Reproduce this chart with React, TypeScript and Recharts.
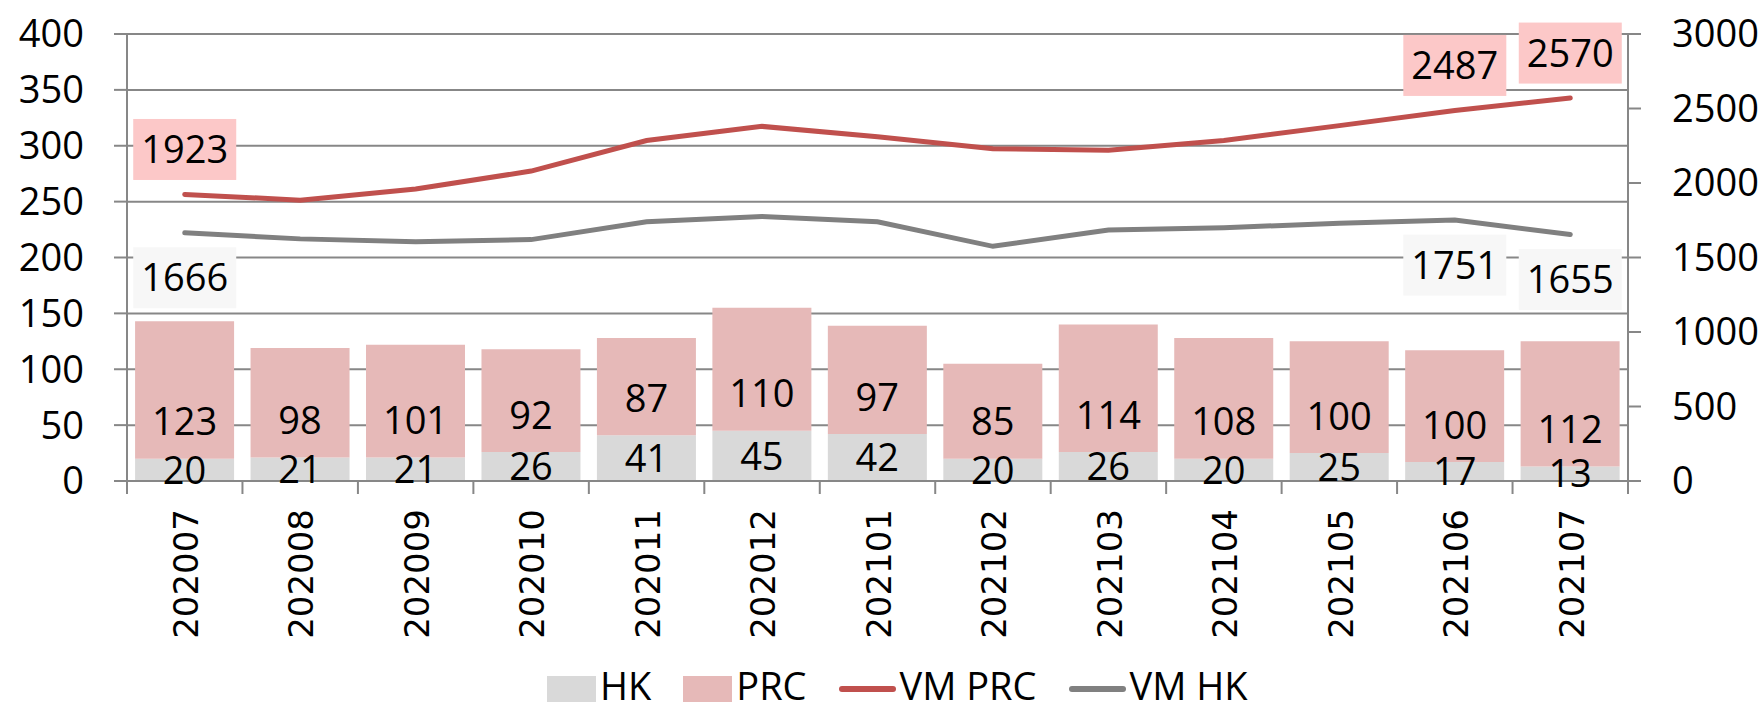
import React from 'react';
import { ComposedChart, Bar, Line, XAxis, YAxis, CartesianGrid, Legend, LabelList } from 'recharts';

const months = ['202007', '202008', '202009', '202010', '202011', '202012', '202101', '202102', '202103', '202104', '202105', '202106', '202107'];
const hk = [20, 21, 21, 26, 41, 45, 42, 20, 26, 20, 25, 17, 13];
const prc = [123, 98, 101, 92, 87, 110, 97, 85, 114, 108, 100, 100, 112];
const vmPrc = [1923, 1885, 1960, 2080, 2285, 2380, 2310, 2230, 2220, 2285, 2385, 2487, 2570];
const vmHk = [1666, 1625, 1605, 1620, 1740, 1775, 1740, 1575, 1685, 1700, 1730, 1751, 1655];
const leftTicks = [0, 50, 100, 150, 200, 250, 300, 350, 400];
const rightTicks = [0, 500, 1000, 1500, 2000, 2500, 3000];
const lineLabelIdx = [0, 11, 12];

const data = months.map((m, i) => ({ month: m, hk: hk[i], prc: prc[i], vmPrc: vmPrc[i], vmHk: vmHk[i] }));

const W = 1763;
const H = 702;
const LEFT = 127;
const RIGHT_W = 135;
const PLOT_W = W - LEFT - RIGHT_W;
const GRID = '#878787';
const FONT = "'Open Sans', Lato, sans-serif";
const FS = 38;

const MonthTick = (props: any) => {
  const { x, y, payload, index } = props;
  const band = PLOT_W / months.length;
  return (
    <g>
      <line x1={x - band / 2} x2={x - band / 2} y1={y} y2={y + 13} stroke={GRID} strokeWidth={2} />
      {index === months.length - 1 && (
        <line x1={x + band / 2} x2={x + band / 2} y1={y} y2={y + 13} stroke={GRID} strokeWidth={2} />
      )}
      <text
        transform={`translate(${x + 1},${y + 28}) rotate(-90)`}
        textAnchor="end"
        dy="0.36em"
        fontSize={34}
        fontFamily="'DejaVu Sans', sans-serif"
        fill="#000"
      >
        {payload.value}
      </text>
    </g>
  );
};

const hkLabel = (props: any) => {
  const { x, y, width, height, value } = props;
  return (
    <text x={x + width / 2} y={y + height / 2} dy="0.36em" textAnchor="middle" fontSize={FS} fontFamily={FONT} fill="#000">
      {value}
    </text>
  );
};

const prcLabel = (props: any) => {
  const { x, y, width, height, value } = props;
  return (
    <text x={x + width / 2} y={y + height - 37} dy="0.36em" textAnchor="middle" fontSize={FS} fontFamily={FONT} fill="#000">
      {value}
    </text>
  );
};

const lineLabel = (fill: string, off: number) => (props: any) => {
  const { x, y, value, index } = props;
  if (!lineLabelIdx.includes(index)) return null;
  return (
    <g>
      <rect x={x - 51.5} y={y + off - 30.5} width={103} height={61} fill={fill} />
      <text x={x} y={y + off} dy="0.36em" textAnchor="middle" fontSize={FS} fontFamily={FONT} fill="#000">
        {value}
      </text>
    </g>
  );
};

const legendItems = [
  { name: 'HK', color: '#D9D9D9', type: 'box' },
  { name: 'PRC', color: '#E6B9B8', type: 'box' },
  { name: 'VM PRC', color: '#C0504D', type: 'line' },
  { name: 'VM HK', color: '#808080', type: 'line' },
];

const renderLegend = () => (
  <div style={{ display: 'flex', paddingLeft: 547, fontFamily: FONT, fontSize: FS, lineHeight: 1, color: '#000' }}>
    {legendItems.map((it) => (
      <div key={it.name} style={{ display: 'flex', alignItems: 'flex-start', marginRight: 32 }}>
        {it.type === 'box' ? (
          <div style={{ width: 49, height: 40, marginTop: 10, background: it.color }} />
        ) : (
          <div style={{ width: 57, height: 6, marginTop: 20, borderRadius: 3, background: it.color }} />
        )}
        <span style={{ marginLeft: 4, whiteSpace: 'nowrap' }}>{it.name}</span>
      </div>
    ))}
  </div>
);

export default function App() {
  return (
    <div style={{ position: 'absolute', left: 0, top: 0, width: W, height: H, background: '#fff', overflow: 'hidden' }}>
      <ComposedChart width={W} height={H} data={data} margin={{ top: 34, right: 0, bottom: 0, left: 0 }} barCategoryGap="7%">
        <XAxis
          dataKey="month"
          height={221}
          interval={0}
          tickSize={0}
          tickMargin={0}
          tickLine={false}
          axisLine={{ stroke: GRID, strokeWidth: 2 }}
          tick={<MonthTick />}
        />
        <YAxis
          yAxisId="left"
          width={LEFT}
          domain={[0, 400]}
          ticks={leftTicks}
          interval={0}
          tickSize={13}
          tickMargin={30}
          axisLine={{ stroke: GRID, strokeWidth: 2 }}
          tickLine={{ stroke: GRID, strokeWidth: 2 }}
          tick={{ fontSize: FS, fontFamily: FONT, fill: '#000' }}
        />
        <YAxis
          yAxisId="right"
          orientation="right"
          width={RIGHT_W}
          domain={[0, 3000]}
          ticks={rightTicks}
          interval={0}
          tickSize={13}
          tickMargin={31}
          axisLine={{ stroke: GRID, strokeWidth: 2 }}
          tickLine={{ stroke: GRID, strokeWidth: 2 }}
          tick={{ fontSize: FS, fontFamily: FONT, fill: '#000' }}
        />
        <Bar yAxisId="left" dataKey="hk" name="HK" stackId="a" fill="#D9D9D9" isAnimationActive={false}>
          <LabelList dataKey="hk" content={hkLabel} />
        </Bar>
        <Bar yAxisId="left" dataKey="prc" name="PRC" stackId="a" fill="#E6B9B8" isAnimationActive={false}>
          <LabelList dataKey="prc" content={prcLabel} />
        </Bar>
        <CartesianGrid yAxisId="left" vertical={false} stroke={GRID} strokeWidth={2} />
        <Line
          yAxisId="right"
          dataKey="vmPrc"
          name="VM PRC"
          stroke="#C0504D"
          strokeWidth={5}
          strokeLinecap="round"
          dot={false}
          isAnimationActive={false}
        >
          <LabelList dataKey="vmPrc" content={lineLabel('#FCC8C8', -45)} />
        </Line>
        <Line
          yAxisId="right"
          dataKey="vmHk"
          name="VM HK"
          stroke="#808080"
          strokeWidth={5}
          strokeLinecap="round"
          dot={false}
          isAnimationActive={false}
        >
          <LabelList dataKey="vmHk" content={lineLabel('#F7F7F7', 45)} />
        </Line>
        <Legend
          layout="horizontal"
          verticalAlign="middle"
          align="center"
          wrapperStyle={{ top: 666, left: 0, width: W, height: 40 }}
          content={renderLegend}
        />
      </ComposedChart>
    </div>
  );
}
